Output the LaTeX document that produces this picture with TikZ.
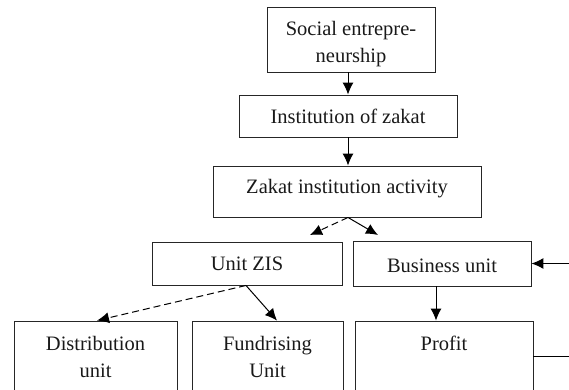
\documentclass[tikz,border=0pt]{standalone}
\usepackage{fontspec}
\setmainfont{Liberation Serif}
\usetikzlibrary{arrows.meta,calc}
\begin{document}
\begin{tikzpicture}[x=1pt,y=-1pt,
  box/.style={draw=black!85, line width=0.9pt, rectangle, inner sep=0pt},
  txt/.style={font=\fontsize{20.5}{27}\selectfont, align=center, inner sep=0pt, text=black!90},
  arr/.style={draw=black, line width=1pt, -{Latex[length=12pt,width=11pt]}},
  darr/.style={arr, dash pattern=on 7pt off 4pt}]
\useasboundingbox (0,0) rectangle (569,389);
\clip (0,0) rectangle (569,389);
% boxes
\node[box, minimum width=168pt, minimum height=65pt] (b1) at (351,39.5) {};
\node[txt] (b1t) at (351,44) {Social entrepre-\\neurship};
\node[box, minimum width=218pt, minimum height=42pt] (b2) at (348,116) {};
\node[txt] (b2t) at (348,116.5) {Institution of zakat};
\node[box, minimum width=268pt, minimum height=51pt] (b3) at (347,191.5) {};
\node[txt] (b3t) at (347,189) {Zakat institution activity};
\node[box, minimum width=190pt, minimum height=43pt] (b4) at (247,263.5) {};
\node[txt] (b4t) at (247,264) {Unit ZIS};
\node[box, minimum width=178pt, minimum height=45pt] (b5) at (442,263.5) {};
\node[txt] (b5t) at (442,266) {Business unit};
\node[box, minimum width=163pt, minimum height=79pt] (dist) at (95.5,360.5) {};
\node[txt] (distt) at (95.5,357) {Distribution\\unit};
\node[box, minimum width=151pt, minimum height=79pt] (fund) at (267.5,360.5) {};
\node[txt] (fundt) at (267.5,357) {Fundrising\\Unit};
\node[box, minimum width=178pt, minimum height=79pt] (profit) at (444,360.5) {};
\node[txt] (profitt) at (444,343) {Profit};
% connectors
\draw[arr] (b2.north |- b1.south) -- (b2.north);
\draw[arr] (b2.south) -- (b2.south |- b3.north);
\coordinate (s3) at ($(b3.south)+(1,0)$);
\coordinate (d3) at (310,235);
\coordinate (e3) at (378,235);
\draw[darr] (s3) -- (d3);
\draw[arr] (s3) -- (e3);
\coordinate (s4) at ($(b4.south)+(-1,0)$);
\draw[darr] (s4) -- ($(dist.north)+(1.5,0)$);
\draw[arr] (s4) -- ($(fund.north)+(9.5,0)$);
\coordinate (s5) at ($(b5.south)+(-6,0)$);
\draw[arr] (s5) -- (s5 |- profit.north);
\coordinate (in5) at (569,263.5);
\draw[arr] (in5) -- (b5.east);
\coordinate (out6) at (569,356);
\draw[line width=1pt] (out6 -| profit.east) -- (out6);
\end{tikzpicture}
\end{document}
